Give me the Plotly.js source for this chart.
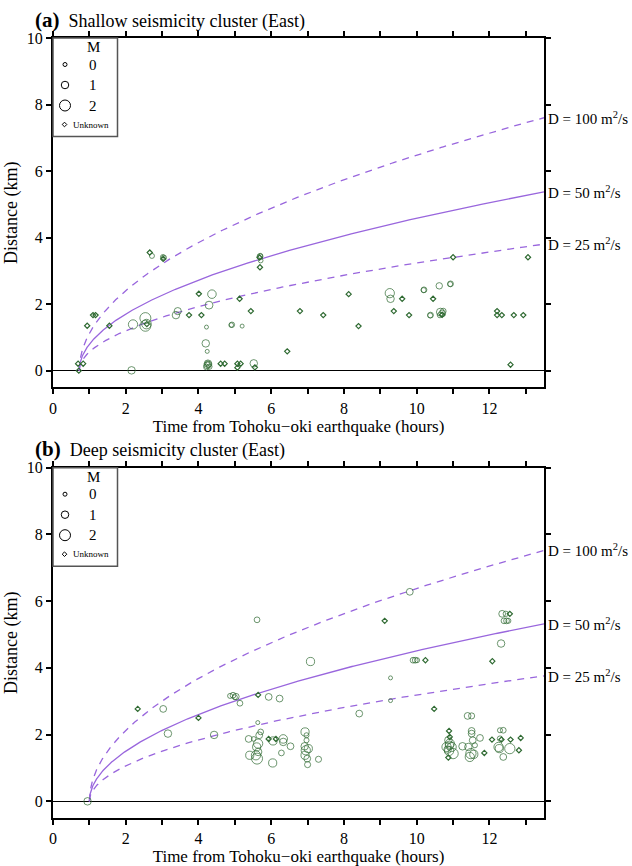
<!DOCTYPE html>
<html><head><meta charset="utf-8">
<script src="https://cdn.plot.ly/plotly-3.0.1.min.js"></script>
<style>body{margin:0;background:#fff}</style>
</head><body><div id="chart" style="width:632px;height:866px"></div>
<script>
// ---------- DATA ----------
// Panel (a) shallow cluster: events with magnitude (time h, distance km, M)
const aCircT = [2.16,2.20,2.54,2.54,2.57,2.72,3.02,3.05,3.38,3.43,4.37,4.29,4.22,4.20,4.24,4.26,4.24,4.28,4.22,4.30,4.25,4.92,4.90,5.20,5.52,5.69,5.70,5.71,9.26,9.28,10.20,10.19,10.38,10.37,10.62,10.65,10.70,10.73,10.64,10.93,10.92];
const aCircD = [0.01,1.39,1.58,1.35,1.40,3.45,3.42,3.40,1.67,1.79,2.30,1.97,1.31,0.82,0.58,0.21,0.16,0.19,0.11,0.12,0.22,1.38,1.37,1.34,0.22,3.43,3.45,3.31,2.33,2.16,2.43,2.42,1.67,1.66,2.55,1.76,1.72,1.79,1.67,2.61,2.60];
const aCircM = [1.0,1.5,2.0,2.0,1.6,0.3,0.2,0.3,1.0,0.9,1.3,1.1,0.0,1.0,0.0,1.0,0.8,0.6,0.5,0.4,0.3,0.4,0.2,0.0,1.0,0.5,0.3,0.2,1.5,1.0,0.5,0.3,0.5,0.3,0.7,1.1,0.8,0.5,0.4,0.5,0.3];
// Panel (a): events with unknown magnitude
const aUnkT = [0.71,0.69,0.83,0.94,1.10,1.17,1.55,2.58,2.66,3.03,3.74,4.01,4.08,4.61,4.72,5.13,5.07,5.16,5.07,5.44,5.55,5.69,5.68,6.44,6.79,7.43,8.13,8.40,9.37,9.60,9.79,10.45,10.70,11.00,12.21,12.21,12.34,12.67,12.93,12.58,13.06];
const aUnkD = [0.00,0.21,0.21,1.35,1.67,1.67,1.35,1.40,3.55,3.36,1.67,2.31,1.67,0.21,0.21,2.16,0.21,0.21,0.09,1.79,0.10,3.11,3.40,0.58,1.79,1.67,2.30,1.34,1.79,2.16,1.67,2.16,1.68,3.41,1.79,1.67,1.67,1.67,1.67,0.18,3.41];

// Panel (b) deep cluster: events with magnitude
const bCircT = [0.95,3.03,3.16,4.43,4.87,4.95,5.03,5.00,5.14,5.63,5.61,5.93,6.23,7.08,6.93,
  5.71,5.67,5.38,5.52,5.64,5.60,5.64,5.41,5.58,5.61,
  6.05,6.33,6.33,6.53,6.28,6.04,
  6.97,6.97,6.92,7.02,6.95,6.93,6.99,7.00,7.30,
  9.81,12.35,12.45,12.40,12.47,12.52,12.32,9.90,9.96,10.01,9.28,9.28,8.42,11.40,11.51,
  10.87,10.91,10.82,10.96,10.89,11.00,10.90,10.85,
  11.51,11.51,11.74,11.54,11.26,11.42,11.60,11.49,11.46,11.57,
  12.29,12.38,12.29,12.25,12.27,12.56,12.38];
const bCircD = [0.00,2.77,2.03,1.99,3.16,3.18,3.14,3.12,2.94,2.36,5.44,3.13,3.08,4.19,2.08,
  2.08,1.98,1.87,1.87,1.73,1.63,1.48,1.38,1.38,1.28,
  1.81,1.87,1.78,1.65,1.45,1.15,
  1.98,1.83,1.65,1.58,1.53,1.38,1.28,1.10,1.26,
  6.28,5.62,5.62,5.41,5.41,5.41,4.73,4.23,4.23,4.23,3.70,3.02,2.63,2.56,2.56,
  1.83,1.73,1.63,1.63,1.51,1.43,1.68,1.55,
  2.11,2.03,1.90,1.83,1.65,1.63,1.68,1.43,1.33,1.41,
  2.13,2.13,1.88,1.63,1.58,1.58,1.33];
const bCircM = [1.0,0.8,1.0,1.0,0.3,0.5,0.7,0.3,0.5,0.0,0.5,0.8,0.8,1.2,1.2,
  0.5,0.8,0.8,0.2,1.5,1.2,1.0,1.2,1.5,2.0,
  1.2,1.3,1.0,0.8,0.5,1.2,
  0.3,0.3,1.0,1.2,1.5,1.2,0.8,0.6,0.6,
  0.8,0.8,0.4,0.5,0.5,0.3,1.0,0.5,0.5,0.3,0.0,0.0,0.8,0.8,0.6,
  1.0,1.5,1.5,1.5,1.5,1.8,1.2,1.0,
  0.8,0.8,0.8,0.8,1.0,1.0,0.3,1.8,1.5,1.2,
  0.3,0.5,0.4,1.5,1.2,1.8,0.8];
// Panel (b): events with unknown magnitude
const bUnkT = [2.33,4.00,5.64,9.12,12.56,10.24,12.08,10.48,10.89,10.91,10.87,11.86,12.07,12.33,12.58,12.86,12.81,5.93,6.13];
const bUnkD = [2.77,2.50,3.19,5.41,5.62,4.23,4.20,2.77,2.11,1.93,1.31,1.45,1.85,1.85,1.85,1.90,1.53,1.87,1.87];

// Diffusion model r = sqrt(4*pi*D*t), onset times (h)
const diffusivities = [25, 50, 100];
const onsetA = 0.72, onsetB = 1.0;
const tMax = 13.5;

const xTickVals = [0,2,4,6,8,10,12];
const xTickText = ['0','2','4','6','8','10','12'];
const legendMags = [0, 1, 2];

// ---------- STYLE / LAYOUT ----------
const GREEN = '#2f6a32', PURPLE = '#9966dd';
const FONT = 'Liberation Serif, Times New Roman, serif';
const W=632, H=866, L=53, R=88, T=38, B=48;
const plotW = W-L-R, plotH = H-T-B;
const pX = px => (px-L)/plotW;
const pY = py => (H-B-py)/plotH;
const magSize = m => 4 + 3.5*m;

function radius(D, t, t0){ return Math.sqrt(4*Math.PI*D*(t-t0)*3600)/1000; }
function curveTrace(D, t0, xa, ya){
  const xs=[], ys=[];
  const n=400;
  for(let i=0;i<=n;i++){ const t=t0+(tMax-t0)*Math.pow(i/n,2); xs.push(t); ys.push(radius(D,t,t0)); }
  return {x:xs,y:ys,xaxis:xa,yaxis:ya,mode:'lines',hoverinfo:'skip',
    line:{color:PURPLE,width:1.3,dash: D===50?'solid':'7px,6px'}};
}
const traces=[];
[[onsetA,'x','y'],[onsetB,'x2','y2']].forEach(([t0,xa,ya])=>{
  diffusivities.forEach(D=>traces.push(curveTrace(D,t0,xa,ya)));
});
function circTrace(t,d,m,xa,ya){
  return {x:t,y:d,xaxis:xa,yaxis:ya,mode:'markers',
    marker:{symbol:'circle-open',size:m.map(magSize),color:GREEN,line:{color:GREEN,width:1}}};
}
function unkTrace(t,d,xa,ya){
  return {x:t,y:d,xaxis:xa,yaxis:ya,mode:'markers',
    marker:{symbol:'diamond-open',size:4,color:GREEN,line:{color:GREEN,width:1.2}}};
}
traces.push(unkTrace(aUnkT,aUnkD,'x','y'));
traces.push(circTrace(aCircT,aCircD,aCircM,'x','y'));
traces.push(unkTrace(bUnkT,bUnkD,'x2','y2'));
traces.push(circTrace(bCircT,bCircD,bCircM,'x2','y2'));

const axBase = {showline:true,linewidth:2,linecolor:'#000',mirror:'ticks',ticks:'outside',ticklen:5,tickwidth:2,tickcolor:'#000',
  showgrid:false,zeroline:false,tickfont:{family:FONT,size:16,color:'#000'}};
const xTitle = {text:'Time from Tohoku\u2212oki earthquake (hours)',font:{family:FONT,size:17,color:'#000'},standoff:5};
const yTitle = {text:'Distance (km)',font:{family:FONT,size:18,color:'#000'},standoff:4};
const xAx = Object.assign({},axBase,{range:[0,tMax],tickmode:'array',tickvals:xTickVals,ticktext:xTickText,title:xTitle,
  minor:{dtick:1,tick0:0,ticks:'outside',ticklen:5,tickwidth:2,tickcolor:'#000',showgrid:false}});
const yAx = Object.assign({},axBase,{range:[-0.5,10],tickmode:'linear',tick0:0,dtick:2,zeroline:true,zerolinecolor:'#000',zerolinewidth:1,title:yTitle});

const shapes=[], annotations=[];
function panelDecor(topPx, titleY, letter, name, t0, yref){
  // legend box
  shapes.push({type:'rect',xref:'paper',yref:'paper',x0:0,x1:pX(117.5),y0:pY(topPx+98.5),y1:pY(topPx),
    line:{color:'#555',width:1.5},fillcolor:'rgba(255,255,255,0)'});
  annotations.push({xref:'paper',yref:'paper',x:pX(93),y:pY(topPx+9.5),text:'M',showarrow:false,xanchor:'center',yanchor:'middle',font:{family:FONT,size:15,color:'#000'}});
  const rows=[26.5,47,67.5];
  legendMags.forEach((m,i)=>{
    const r=magSize(m)/2;
    shapes.push({type:'circle',xref:'paper',yref:'paper',xsizemode:'pixel',ysizemode:'pixel',xanchor:pX(65),yanchor:pY(topPx+rows[i]),
      x0:-r,x1:r,y0:-r,y1:r,line:{color:'#000',width:1}});
    annotations.push({xref:'paper',yref:'paper',x:pX(93),y:pY(topPx+rows[i]),text:String(m),showarrow:false,xanchor:'center',yanchor:'middle',font:{family:FONT,size:15,color:'#000'}});
  });
  shapes.push({type:'path',xref:'paper',yref:'paper',xsizemode:'pixel',ysizemode:'pixel',xanchor:pX(64.5),yanchor:pY(topPx+86.5),
    path:'M0,2.3L2.3,0L0,-2.3L-2.3,0Z',line:{color:'#000',width:1}});
  annotations.push({xref:'paper',yref:'paper',x:pX(70.5),y:pY(topPx+86.5),text:'Unknown',showarrow:false,xanchor:'left',yanchor:'middle',font:{family:FONT,size:9,color:'#000'}});
  // panel title
  annotations.push({xref:'paper',yref:'paper',x:pX(33),y:pY(titleY),xanchor:'left',yanchor:'middle',showarrow:false,
    text:'<b><span style="font-size:21px">('+letter+')</span></b>  '+name,font:{family:FONT,size:18,color:'#000'}});
  // D labels
  diffusivities.forEach(D=>{
    annotations.push({xref:'paper',yref:yref,x:1,xshift:2,y:radius(D,tMax,t0),xanchor:'left',yanchor:'middle',showarrow:false,
      text:'D = '+D+' m<sup>2</sup>/s',font:{family:FONT,size:15,color:'#000'}});
  });
}
panelDecor(38,20,'a','Shallow seismicity cluster (East)',onsetA,'y');
panelDecor(467.7,448.5,'b','Deep seismicity cluster (East)',onsetB,'y2');

const layout = {
  width:W,height:H,margin:{l:L,r:R,t:T,b:B},paper_bgcolor:'#fff',plot_bgcolor:'#fff',showlegend:false,
  xaxis:Object.assign({},xAx,{anchor:'y',domain:[0,1]}),
  yaxis:Object.assign({},yAx,{anchor:'x',domain:[pY(387.3),1]}),
  xaxis2:Object.assign({},xAx,{anchor:'y2',domain:[0,1]}),
  yaxis2:Object.assign({},yAx,{anchor:'x2',domain:[0,pY(467.7)]}),
  shapes:shapes,annotations:annotations
};
Plotly.newPlot('chart',traces,layout,{displayModeBar:false,staticPlot:true});
</script></body></html>
